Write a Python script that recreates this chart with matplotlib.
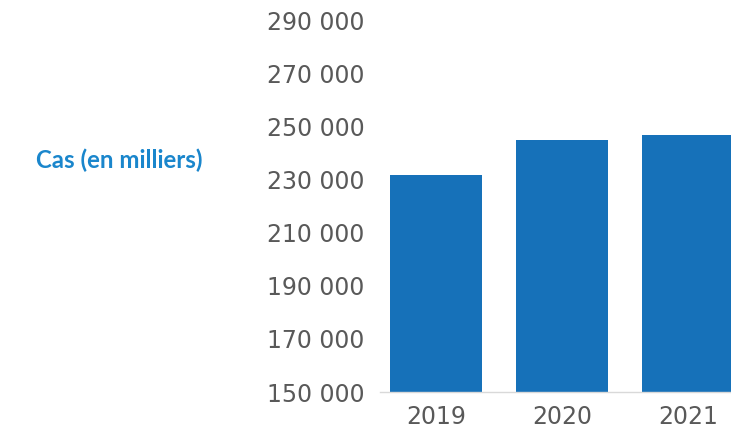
import matplotlib.pyplot as plt

# Cases per year
years = ["2019", "2020", "2021"]
cases = [232000, 245000, 247000]
y_ticks = [150000, 170000, 190000, 210000, 230000, 250000, 270000, 290000]

W, H = 731, 433
fig = plt.figure(figsize=(W / 100, H / 100), dpi=100)

# axes placed in pixel terms: left edge at 380px, baseline at 392px from top
left, right, bottom, top = 380, 731, 392, 0
ax = fig.add_axes([left / W, (H - bottom) / H, (right - left) / W, (bottom - top) / H])

px_per_unit = 53 / 20000

ax.bar(range(len(years)), cases, width=0.73, color="#1671b9", zorder=2)
ax.set_ylim(150000, 150000 + (bottom - top) / px_per_unit)
ax.set_xlim(-(436 - left) / 126, (right - 436) / 126)

ax.set_xticks(range(len(years)))
ax.set_xticklabels(years)
ax.set_yticks(y_ticks)
ax.set_yticklabels([f"{v:,}".replace(",", " ") for v in y_ticks])

for s in ["top", "right", "left"]:
    ax.spines[s].set_visible(False)
ax.spines["bottom"].set_color("#d9d9d9")
ax.spines["bottom"].set_linewidth(1.0)

ax.tick_params(axis="both", length=0, labelsize=17, labelcolor="#595959")
ax.tick_params(axis="y", pad=11)
ax.tick_params(axis="x", pad=9)

fig.text(36 / W, 1 - 160 / H, "Cas (en milliers)", color="#1a86cc",
         fontsize=17.3, fontweight="bold", family="Lato", va="center", ha="left")

fig.savefig("out.png", dpi=100)
